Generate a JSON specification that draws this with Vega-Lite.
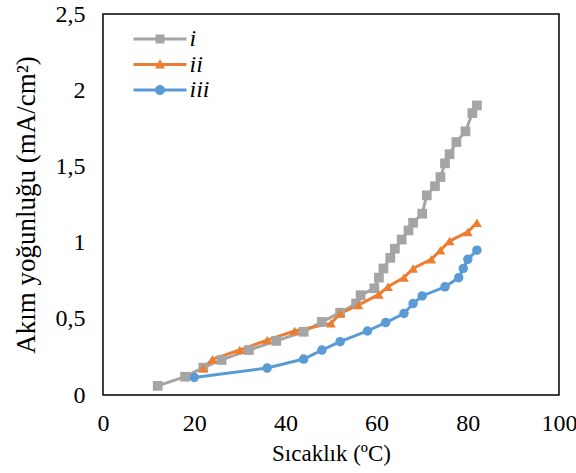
{
  "$schema": "https://vega.github.io/schema/vega-lite/v6.json",
  "autosize": {"type": "none"},
  "padding": {"left": 103, "top": 14, "right": 17, "bottom": 78},
  "width": 456,
  "height": 381,
  "background": "white",
  "config": {
    "view": {"stroke": "#000000", "strokeWidth": 1.5},
    "axis": {
      "labelFont": "Liberation Serif, Times New Roman, serif",
      "labelFontSize": 24,
      "labelColor": "#000000",
      "labelFlush": false,
      "titleFont": "Liberation Serif, Times New Roman, serif",
      "titleFontWeight": "normal",
      "titleColor": "#000000",
      "domain": false,
      "ticks": false,
      "grid": false
    },
    "legend": {
      "labelFont": "Liberation Serif, Times New Roman, serif"
    }
  },
  "data": {
    "values": [
      {"series": "i", "x": 12, "y": 0.06},
      {"series": "i", "x": 18, "y": 0.12},
      {"series": "i", "x": 22, "y": 0.18},
      {"series": "i", "x": 26, "y": 0.23},
      {"series": "i", "x": 32, "y": 0.295},
      {"series": "i", "x": 38, "y": 0.355},
      {"series": "i", "x": 44, "y": 0.415},
      {"series": "i", "x": 48, "y": 0.48},
      {"series": "i", "x": 52, "y": 0.54},
      {"series": "i", "x": 55.5, "y": 0.6},
      {"series": "i", "x": 56.5, "y": 0.655},
      {"series": "i", "x": 59.5, "y": 0.7},
      {"series": "i", "x": 60.5, "y": 0.77},
      {"series": "i", "x": 61.5, "y": 0.83},
      {"series": "i", "x": 63, "y": 0.9},
      {"series": "i", "x": 64, "y": 0.96},
      {"series": "i", "x": 65.5, "y": 1.02},
      {"series": "i", "x": 67, "y": 1.08},
      {"series": "i", "x": 68, "y": 1.13},
      {"series": "i", "x": 70, "y": 1.19},
      {"series": "i", "x": 71, "y": 1.31},
      {"series": "i", "x": 72.8, "y": 1.37},
      {"series": "i", "x": 74, "y": 1.43},
      {"series": "i", "x": 75, "y": 1.52},
      {"series": "i", "x": 76, "y": 1.58},
      {"series": "i", "x": 77.5, "y": 1.66},
      {"series": "i", "x": 79.5, "y": 1.73},
      {"series": "i", "x": 81, "y": 1.85},
      {"series": "i", "x": 82, "y": 1.9},
      {"series": "ii", "x": 22, "y": 0.175},
      {"series": "ii", "x": 24, "y": 0.235},
      {"series": "ii", "x": 30, "y": 0.295},
      {"series": "ii", "x": 36, "y": 0.36},
      {"series": "ii", "x": 42, "y": 0.42},
      {"series": "ii", "x": 50, "y": 0.47},
      {"series": "ii", "x": 52, "y": 0.535},
      {"series": "ii", "x": 56, "y": 0.59},
      {"series": "ii", "x": 60.5, "y": 0.66},
      {"series": "ii", "x": 62.5, "y": 0.71},
      {"series": "ii", "x": 66, "y": 0.77},
      {"series": "ii", "x": 68, "y": 0.83},
      {"series": "ii", "x": 72, "y": 0.89},
      {"series": "ii", "x": 74, "y": 0.95},
      {"series": "ii", "x": 76, "y": 1.01},
      {"series": "ii", "x": 80, "y": 1.07},
      {"series": "ii", "x": 82, "y": 1.13},
      {"series": "iii", "x": 20, "y": 0.115},
      {"series": "iii", "x": 36, "y": 0.177},
      {"series": "iii", "x": 44, "y": 0.236},
      {"series": "iii", "x": 48, "y": 0.295},
      {"series": "iii", "x": 52, "y": 0.35},
      {"series": "iii", "x": 58, "y": 0.42},
      {"series": "iii", "x": 62, "y": 0.475},
      {"series": "iii", "x": 66, "y": 0.535},
      {"series": "iii", "x": 68, "y": 0.6},
      {"series": "iii", "x": 70, "y": 0.65},
      {"series": "iii", "x": 75, "y": 0.71},
      {"series": "iii", "x": 78, "y": 0.77},
      {"series": "iii", "x": 79, "y": 0.83},
      {"series": "iii", "x": 80, "y": 0.89},
      {"series": "iii", "x": 82, "y": 0.95}
    ]
  },
  "encoding": {
    "x": {
      "field": "x", "type": "quantitative",
      "scale": {"domain": [0, 100], "nice": false},
      "axis": {"values": [0, 20, 40, 60, 80, 100], "labelPadding": 16, "title": "Sıcaklık (ºC)", "titleFontSize": 23, "titlePadding": 7}
    },
    "y": {
      "field": "y", "type": "quantitative",
      "scale": {"domain": [0, 2.5], "nice": false},
      "axis": {"values": [0, 0.5, 1, 1.5, 2, 2.5], "labelExpr": "replace(toString(datum.value), '.', ',')", "labelPadding": 18, "title": "Akım yoğunluğu (mA/cm²)", "titleFontSize": 27, "titlePadding": 15}
    }
  },
  "layer": [
    {
      "transform": [{"filter": "datum.series == 'i'"}],
      "mark": {"type": "line", "strokeWidth": 3, "color": "#A5A5A5"}
    },
    {
      "transform": [{"filter": "datum.series == 'ii'"}],
      "mark": {"type": "line", "strokeWidth": 3, "color": "#ED7D31"}
    },
    {
      "transform": [{"filter": "datum.series == 'iii'"}],
      "mark": {"type": "line", "strokeWidth": 3, "color": "#5B9BD5"}
    },
    {
      "transform": [{"filter": "datum.series == 'i'"}],
      "mark": {"type": "point", "filled": true, "opacity": 1, "shape": "square", "size": 95, "color": "#A5A5A5"}
    },
    {
      "transform": [{"filter": "datum.series == 'ii'"}],
      "mark": {"type": "point", "filled": true, "opacity": 1, "shape": "triangle-up", "size": 95, "color": "#ED7D31"}
    },
    {
      "transform": [{"filter": "datum.series == 'iii'"}],
      "mark": {"type": "point", "filled": true, "opacity": 1, "shape": "circle", "size": 90, "color": "#5B9BD5"}
    },
    {
      "mark": {"type": "point", "filled": true, "opacity": 0},
      "encoding": {
        "color": {
          "field": "series", "type": "nominal",
          "scale": {"domain": ["i", "ii", "iii"], "range": ["#A5A5A5", "#ED7D31", "#5B9BD5"]},
          "legend": {"orient": "none", "legendX": 45, "legendY": 13, "title": null, "padding": 0, "rowPadding": 1.5, "symbolSize": 400, "symbolOpacity": 1, "symbolStrokeWidth": 0, "labelFontStyle": "italic", "labelFontSize": 24, "labelColor": "#000000", "labelOffset": 17.5}
        },
        "shape": {
          "field": "series", "type": "nominal",
          "scale": {"domain": ["i", "ii", "iii"], "range": [
            "M-2.65,-0.15H2.65V0.15H-2.65Z M-0.45,-0.45H0.45V0.45H-0.45Z",
            "M-2.65,-0.15H2.65V0.15H-2.65Z M0,-0.55L0.5,0.4H-0.5Z",
            "M-2.65,-0.15H2.65V0.15H-2.65Z M-0.5,0A0.5,0.5 0 1,1 0.5,0A0.5,0.5 0 1,1 -0.5,0Z"
          ]},
          "legend": {"orient": "none", "legendX": 45, "legendY": 13, "title": null, "padding": 0, "rowPadding": 1.5, "symbolSize": 400, "symbolOpacity": 1, "symbolStrokeWidth": 0, "labelFontStyle": "italic", "labelFontSize": 24, "labelColor": "#000000", "labelOffset": 17.5}
        }
      }
    }
  ]
}
